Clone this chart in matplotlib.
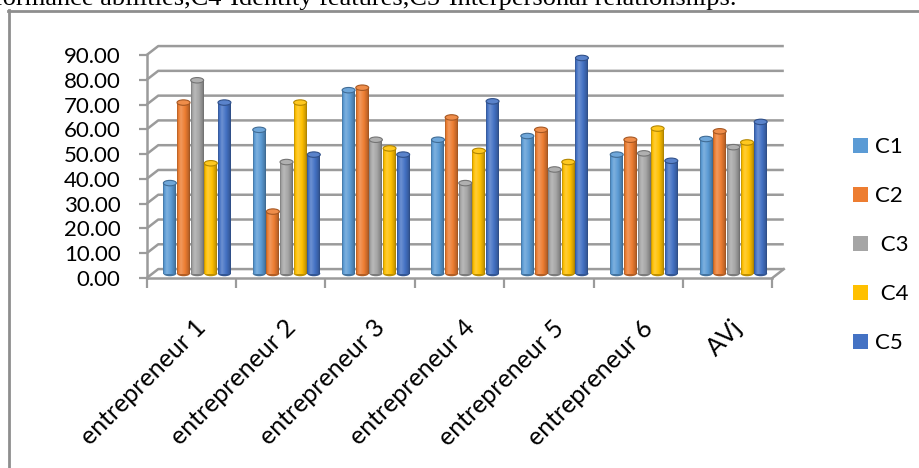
import numpy as np
import matplotlib
matplotlib.use("Agg")
import matplotlib.pyplot as plt
from matplotlib.patches import Ellipse, Patch
from matplotlib.lines import Line2D
import matplotlib.transforms as mtransforms
from matplotlib.colors import to_rgb

# ---- data ----
categories = ["entrepreneur 1", "entrepreneur 2", "entrepreneur 3",
              "entrepreneur 4", "entrepreneur 5", "entrepreneur 6", "AVj"]
series_labels = ["C1", "C2", " C3", " C4", "C5"]
c1 = [36.5, 58.0, 74.0, 54.0, 55.5, 48.0, 54.3]
c2 = [69.0, 25.0, 75.0, 63.0, 58.0, 54.0, 57.4]
c3 = [78.0, 45.0, 54.0, 36.5, 42.0, 48.5, 51.0]
c4 = [44.5, 69.0, 50.5, 49.5, 45.0, 58.5, 52.9]
c5 = [69.0, 48.0, 48.0, 69.5, 87.0, 45.5, 61.2]
series_values = [c1, c2, c3, c4, c5]
y_ticks = [0, 10, 20, 30, 40, 50, 60, 70, 80, 90]
caption = "formance abilities,C4-Identity features,C5-Interpersonal relationships."

colors = ["#5B9BD5", "#ED7D31", "#A5A5A5", "#FFC000", "#4472C4"]
grid_col = "#9B9B9B"
FONT = "Lato"

W, H = 920, 468
fig = plt.figure(figsize=(W / 100, H / 100), dpi=100)
fig.patch.set_facecolor("white")

# outer frame of the chart object (open at right and bottom edges)
frame_kw = dict(color="#8E8E8E", lw=2.0, transform=fig.transFigure)
fig.add_artist(Line2D([9 / W, 9 / W], [1 - 10 / H, 0], **frame_kw))
fig.add_artist(Line2D([8 / W, 1.0], [1 - 11 / H, 1 - 11 / H], **frame_kw))

# caption line from the surrounding document, running off the top edge
fig.text(737 / W, 1 - 5 / H, caption, ha="right", va="baseline",
         fontsize=19, family="Liberation Serif", color="black")

ax = fig.add_axes([146.7 / W, 1 - 278 / H, (772.3 - 146.7) / W, (278 - 55) / H])
ax.set_facecolor("none")
n_cat = len(categories)
xmin, xmax = -0.5, n_cat - 0.5

# oblique depth of the 3-D box, in data units
DX, DY = 0.129, 3.6

# back-wall gridlines with the left-wall diagonals
for v in y_ticks:
    ax.plot([xmin, xmin + DX, xmax + DX], [v, v + DY, v + DY],
            color=grid_col, lw=1.8, solid_capstyle="butt", clip_on=False, zorder=1)
# right edge of the floor
ax.plot([xmax, xmax + DX], [0, DY], color=grid_col, lw=1.8, clip_on=False, zorder=1)


def mix(rgb, m):
    rgb = np.array(rgb)
    if m >= 0:
        return rgb + (1 - rgb) * m
    return rgb * (1 + m)


def cylinder_gradient(color, n=48):
    base = to_rgb(color)
    t = np.linspace(0, 1, n)
    m = np.interp(t, [0.0, 0.08, 0.3, 0.6, 0.9, 1.0], [-0.28, -0.05, 0.22, 0.02, -0.2, -0.35])
    return np.array([mix(base, mm) for mm in m])[np.newaxis, :, :]


pitch = 0.1527
bw = 0.145
eh = 2.2   # ellipse height of the rounded caps, value units
base_y = DY / 2
for j, (vals, col) in enumerate(zip(series_values, colors)):
    grad = cylinder_gradient(col)
    for i, v in enumerate(vals):
        xc = i + DX / 2 + (j - 2) * pitch
        x0 = xc - bw / 2
        top = base_y + v
        ax.add_patch(Ellipse((xc, base_y), bw, eh, facecolor=mix(to_rgb(col), -0.25),
                             edgecolor="none", zorder=3, clip_on=False))
        ax.imshow(grad, extent=[x0, x0 + bw, base_y, top], aspect="auto",
                  interpolation="bilinear", zorder=4, clip_on=False)
        ax.add_patch(Ellipse((xc, top), bw, eh, facecolor=mix(to_rgb(col), 0.12),
                             edgecolor=mix(to_rgb(col), -0.3), lw=0.8, zorder=5,
                             clip_on=False))

ax.set_xlim(xmin, xmax)
ax.set_ylim(0, 90)

for s in ["top", "right"]:
    ax.spines[s].set_visible(False)
for s in ["left", "bottom"]:
    ax.spines[s].set_color(grid_col)
    ax.spines[s].set_linewidth(1.8)
    ax.spines[s].set_zorder(6)

ax.set_yticks(y_ticks)
ax.set_yticklabels([f"{v:.2f}" for v in y_ticks])
ax.tick_params(axis="y", direction="out", length=5.8, width=1.6, color=grid_col,
               pad=13, labelsize=16)
for lbl in ax.get_yticklabels():
    lbl.set_family(FONT)

ax.set_xticks(np.arange(n_cat + 1) - 0.5)
ax.set_xticklabels([])
ax.tick_params(axis="x", direction="out", length=7.2, width=1.6, color=grid_col)

# rotated category labels
offset = mtransforms.ScaledTranslation(3 / 100, -38 / 100, fig.dpi_scale_trans)
for i, name in enumerate(categories):
    ax.text(i, 0, name, transform=ax.transData + offset, rotation=45,
            rotation_mode="anchor", ha="right", va="top", fontsize=18,
            family=FONT, clip_on=False)

handles = [Patch(facecolor=c, edgecolor="none") for c in colors]
fig.legend(handles, series_labels, loc="upper left",
           bbox_to_anchor=(853 / W, 1 - 137 / H), frameon=False,
           prop={"family": FONT, "size": 16}, handlelength=0.68, handleheight=0.68,
           handletextpad=0.3, labelspacing=1.31, borderaxespad=0, borderpad=0)

fig.savefig("out.png", dpi=100, facecolor="white")
